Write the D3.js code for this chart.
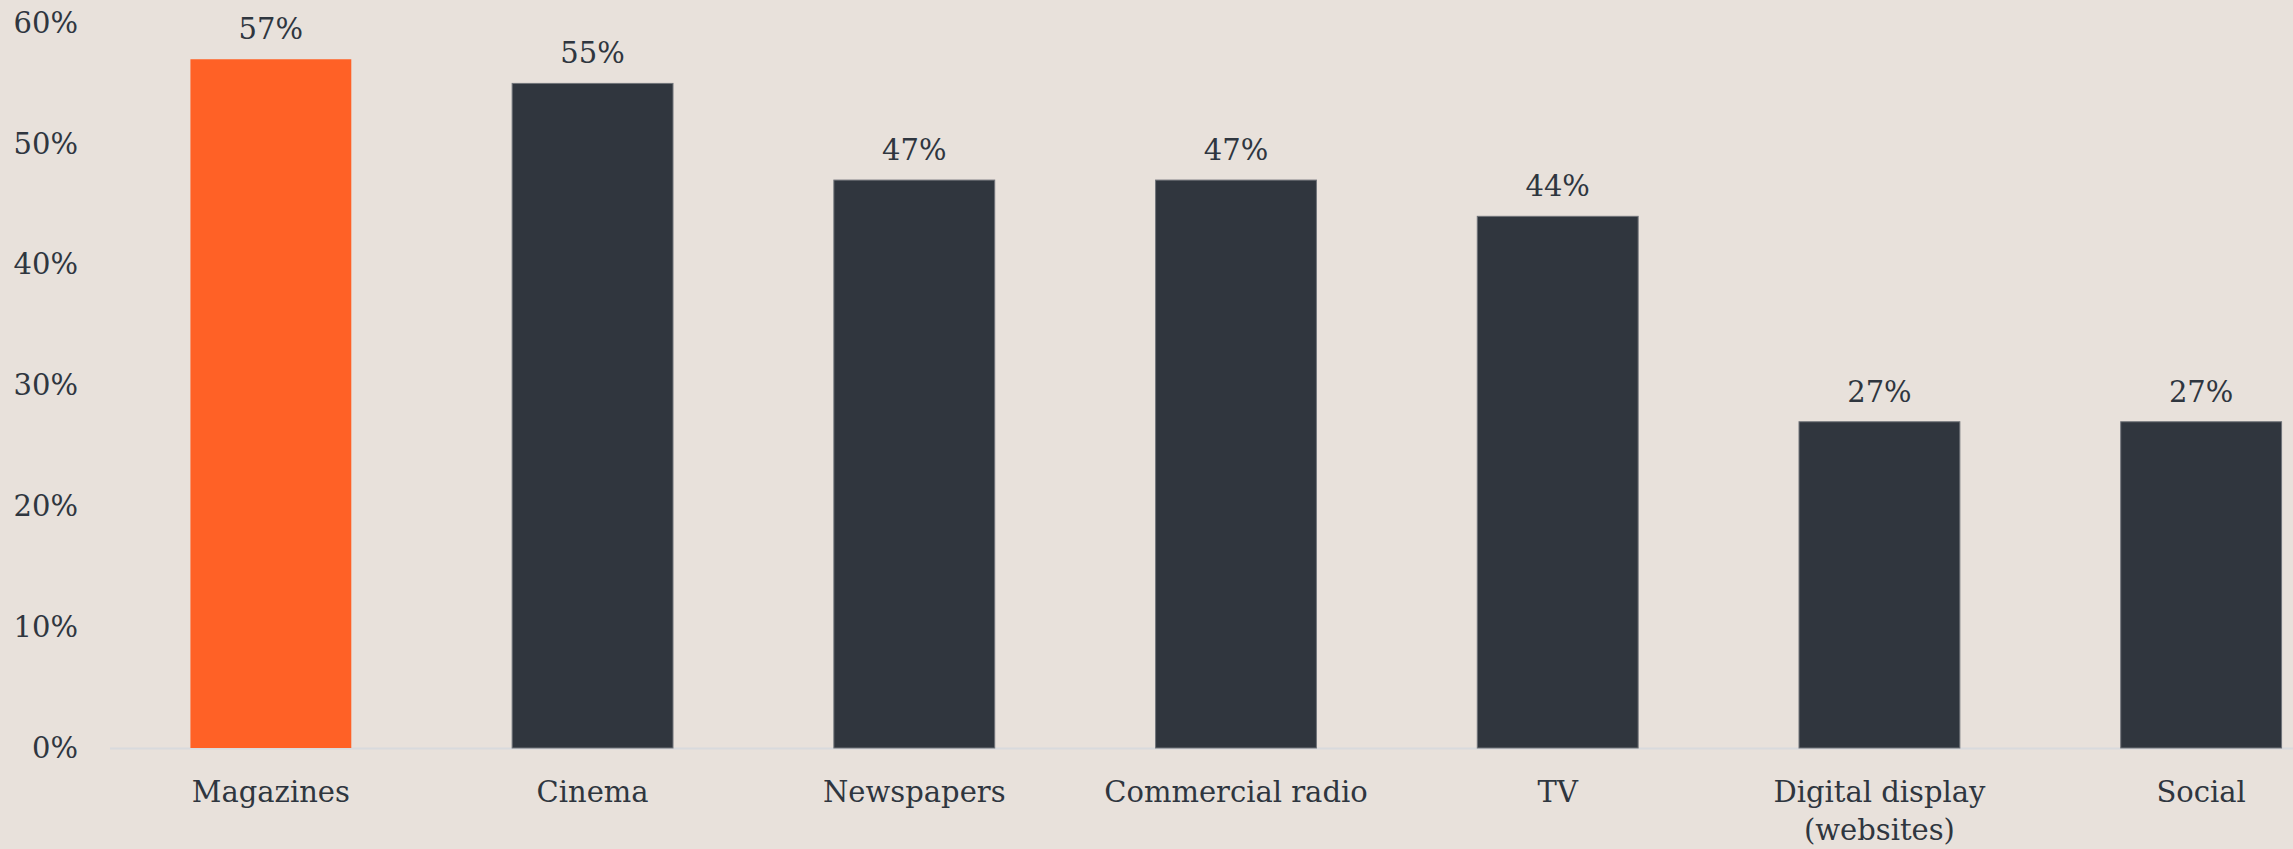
<!DOCTYPE html>
<html>
<head>
<meta charset="utf-8">
<script src="https://cdn.jsdelivr.net/npm/d3@7"></script>
<style>
  body { margin:0; background:#e8e1db; }
  svg { display:block; }
  text { font-family:"DejaVu Serif", "Liberation Serif", serif; fill:#2f363f; }
</style>
</head>
<body>
<svg id="chart"></svg>
<script>
var categories = ["Magazines", "Cinema", "Newspapers", "Commercial radio", "TV", "Digital display (websites)", "Social"];
var values = [57, 55, 47, 47, 44, 27, 27];
var yTicks = [0, 10, 20, 30, 40, 50, 60];
var highlight = "Magazines";

var screen = {width:2293, height:849};
var margins = {top:23, bottom:101, left:110, right:0};
var graph =
{
    width:2252,
    height:screen.height-margins.top-margins.bottom
}

var svg = d3.select("#chart")
    .attr("width",screen.width)
    .attr("height",screen.height)

var data = categories.map((c,i) => ({cat:c, value:values[i]}));

var xScale = d3.scaleBand()
    .domain(categories)
    .range([margins.left, margins.left+graph.width])
    .paddingInner(0.5)
    .paddingOuter(0.25);

var yScale = d3.scaleLinear()
    .domain([0,60])
    .range([margins.top+graph.height, margins.top]);

// y axis labels
var yAxis = d3.axisLeft(yScale)
    .tickValues(yTicks)
    .tickFormat(d => d + "%")
    .tickSize(0)
    .tickPadding(0);

var yg = svg.append("g")
    .attr("transform","translate(78,0)")
    .call(yAxis);
yg.select(".domain").remove();
yg.selectAll("text")
    .style("font-size","29px")
    .attr("fill","#2f363f")
    .attr("font-family","DejaVu Serif");

// zero line
svg.append("line")
    .attr("x1",margins.left)
    .attr("x2",screen.width)
    .attr("y1",yScale(0)+0.5)
    .attr("y2",yScale(0)+0.5)
    .attr("stroke","#d8dadd")
    .attr("stroke-width",2);

// bars
svg.append("g")
    .selectAll("rect")
    .data(data)
    .enter()
    .append("rect")
        .attr("x", d => xScale(d.cat))
        .attr("y", d => yScale(d.value))
        .attr("width", xScale.bandwidth())
        .attr("height", d => yScale(0) - yScale(d.value))
        .attr("fill", d => d.cat == highlight ? "#ff6126" : "#30363e")
        .attr("stroke", d => d.cat == highlight ? "none" : "#70747a")
        .attr("stroke-width", 1);

// value labels
svg.append("g")
    .selectAll("text")
    .data(data)
    .enter()
    .append("text")
        .attr("x", d => xScale(d.cat) + xScale.bandwidth()/2)
        .attr("y", d => yScale(d.value) - 20)
        .attr("text-anchor","middle")
        .style("font-size","29px")
        .text(d => d.value + "%");

// category labels (wrap the long one)
var xg = svg.append("g");
data.forEach(function(d)
{
    var lines = d.cat == "Digital display (websites)" ? ["Digital display", "(websites)"] : [d.cat];
    var t = xg.append("text")
        .attr("x", xScale(d.cat) + xScale.bandwidth()/2)
        .attr("y", yScale(0) + 54)
        .attr("text-anchor","middle")
        .style("font-size","29px");
    lines.forEach(function(l,i)
    {
        t.append("tspan")
            .attr("x", xScale(d.cat) + xScale.bandwidth()/2)
            .attr("dy", i == 0 ? 0 : 38)
            .text(l);
    });
});
</script>
</body>
</html>
